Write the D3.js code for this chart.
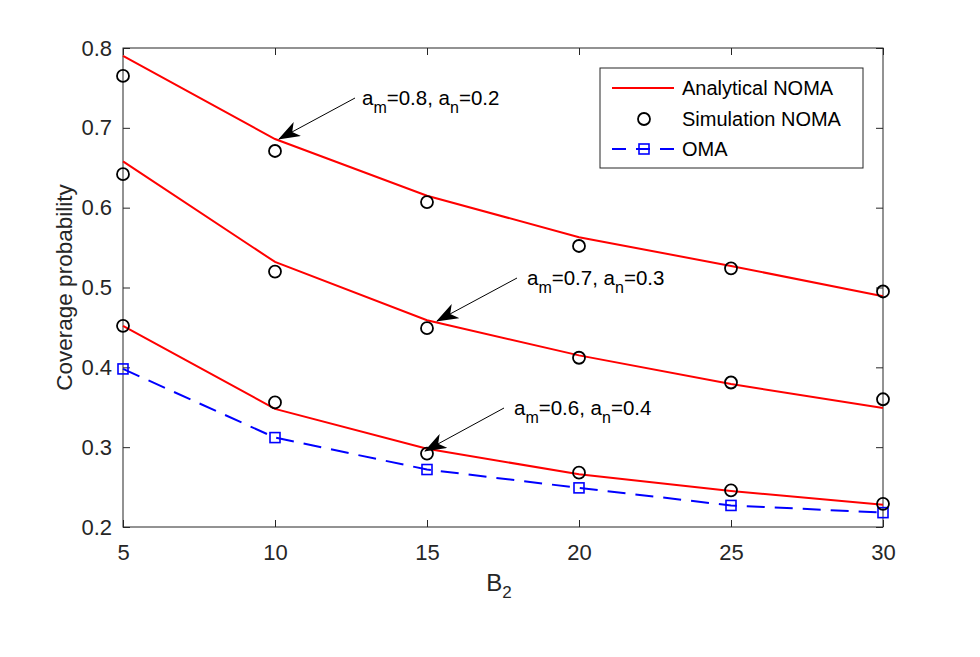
<!DOCTYPE html>
<html>
<head>
<meta charset="utf-8">
<script src="https://cdn.jsdelivr.net/npm/d3@7"></script>
<style>
  body { margin: 0; background: #fff; }
  svg { font-family: "Liberation Sans", Arial, sans-serif; }
</style>
</head>
<body>
<svg width="980" height="657"></svg>
<script>
// data
var xVals = [5, 10, 15, 20, 25, 30];
var anaHigh = [0.790, 0.686, 0.615, 0.563, 0.527, 0.489];
var simHigh = [0.765, 0.671, 0.607, 0.552, 0.524, 0.495];
var anaMid  = [0.658, 0.532, 0.459, 0.415, 0.379, 0.349];
var simMid  = [0.642, 0.520, 0.449, 0.412, 0.381, 0.360];
var anaLow  = [0.452, 0.348, 0.298, 0.266, 0.245, 0.228];
var simLow  = [0.452, 0.356, 0.292, 0.268, 0.246, 0.229];
var oma     = [0.398, 0.312, 0.272, 0.249, 0.227, 0.218];
var xTicks = [5, 10, 15, 20, 25, 30];
var yTicks = [0.2, 0.3, 0.4, 0.5, 0.6, 0.7, 0.8];

var svg = d3.select("svg"),
    margin = {top: 48, right: 97, bottom: 130, left: 123},
    width = +svg.attr("width") - margin.left - margin.right,
    height = +svg.attr("height") - margin.top - margin.bottom;

var x = d3.scaleLinear().domain([5, 30]).range([0, width]);
var y = d3.scaleLinear().domain([0.2, 0.8]).range([height, 0]);

var g = svg.append("g")
    .attr("transform", "translate(" + margin.left + "," + margin.top + ")");

var axisColor = "#262626";

// box
g.append("rect")
  .attr("width", width).attr("height", height)
  .attr("fill", "none").attr("stroke", axisColor).attr("stroke-width", 1);

// x axis (ticks inside)
var xAxis = g.append("g")
  .attr("transform", "translate(0," + height + ")")
  .call(d3.axisBottom(x).tickValues(xTicks).tickSizeInner(-7).tickSizeOuter(0).tickPadding(17));
var xTop = g.append("g")
  .call(d3.axisTop(x).tickValues(xTicks).tickSizeInner(-7).tickSizeOuter(0).tickFormat(""));

// y axis
var yAxis = g.append("g")
  .call(d3.axisLeft(y).tickValues(yTicks).tickSizeInner(-7).tickSizeOuter(0).tickPadding(11).tickFormat(d3.format(".1f")));
var yRight = g.append("g")
  .attr("transform", "translate(" + width + ",0)")
  .call(d3.axisRight(y).tickValues(yTicks).tickSizeInner(-7).tickSizeOuter(0).tickFormat(""));

[xAxis, xTop, yAxis, yRight].forEach(function(a) {
  a.select(".domain").remove();
  a.selectAll("line").attr("stroke", axisColor);
  a.selectAll("text").attr("fill", axisColor).style("font-size", "22px")
    .style("font-family", "Liberation Sans, Arial, sans-serif");
});

// axis labels
svg.append("text")
  .attr("x", margin.left + width / 2 - 4)
  .attr("y", 591)
  .attr("text-anchor", "middle")
  .attr("fill", axisColor)
  .style("font-size", "24px")
  .text("B")
  .append("tspan").attr("dy", 7).style("font-size", "17px").text("2");

svg.append("text")
  .attr("transform", "rotate(-90)")
  .attr("x", -(margin.top + height / 2))
  .attr("y", 72)
  .attr("text-anchor", "middle")
  .attr("fill", axisColor)
  .style("font-size", "22.5px")
  .text("Coverage probability");

var line = d3.line()
  .x(function(d, i) { return x(xVals[i]); })
  .y(function(d) { return y(d); });

// analytical curves
[anaHigh, anaMid, anaLow].forEach(function(s) {
  g.append("path").datum(s)
    .attr("d", line)
    .attr("fill", "none").attr("stroke", "#ff0000").attr("stroke-width", 2);
});

// OMA dashed
g.append("path").datum(oma)
  .attr("d", line)
  .attr("fill", "none").attr("stroke", "#0000ff").attr("stroke-width", 2)
  .attr("stroke-dasharray", "18,10");

g.selectAll(".sq")
  .data(oma)
  .enter().append("rect")
    .attr("class", "sq")
    .attr("x", function(d, i) { return x(xVals[i]) - 5; })
    .attr("y", function(d) { return y(d) - 5; })
    .attr("width", 10).attr("height", 10)
    .attr("fill", "none").attr("stroke", "#0000ff").attr("stroke-width", 1.6);

// simulation circles
[simHigh, simMid, simLow].forEach(function(s) {
  g.selectAll(null)
    .data(s)
    .enter().append("circle")
      .attr("cx", function(d, i) { return x(xVals[i]); })
      .attr("cy", function(d) { return y(d); })
      .attr("r", 6)
      .attr("fill", "none").attr("stroke", "#000").attr("stroke-width", 1.8);
});

// annotations with arrows
var defs = svg.append("defs");
defs.append("marker")
  .attr("id", "ah")
  .attr("viewBox", "0 0 22 16")
  .attr("refX", 21).attr("refY", 8)
  .attr("markerWidth", 22).attr("markerHeight", 16)
  .attr("markerUnits", "userSpaceOnUse")
  .attr("orient", "auto")
  .append("path")
    .attr("d", "M0,0 L22,8 L0,16 L6,8 Z")
    .attr("fill", "#000");

var notes = [
  {m: "0.8", n: "0.2", tx: 362, ty: 105, x1: 355, y1: 98, x2: 279, y2: 139},
  {m: "0.7", n: "0.3", tx: 527, ty: 285, x1: 517, y1: 278, x2: 437, y2: 321},
  {m: "0.6", n: "0.4", tx: 514, ty: 415, x1: 504, y1: 408, x2: 425, y2: 451}
];

notes.forEach(function(a) {
  svg.append("line")
    .attr("x1", a.x1).attr("y1", a.y1).attr("x2", a.x2).attr("y2", a.y2)
    .attr("stroke", "#000").attr("stroke-width", 1)
    .attr("marker-end", "url(#ah)");
  var t = svg.append("text")
    .attr("x", a.tx).attr("y", a.ty)
    .attr("fill", "#000")
    .style("font-size", "20.5px");
  t.append("tspan").text("a");
  t.append("tspan").attr("dy", 8).style("font-size", "16px").text("m");
  t.append("tspan").attr("dy", -8).text("=" + a.m + ", a");
  t.append("tspan").attr("dy", 8).style("font-size", "16px").text("n");
  t.append("tspan").attr("dy", -8).text("=" + a.n);
});

// legend
var leg = svg.append("g");
leg.append("rect")
  .attr("x", 600).attr("y", 68).attr("width", 263).attr("height", 100)
  .attr("fill", "#fff").attr("stroke", axisColor).attr("stroke-width", 1);

var legItems = ["Analytical NOMA", "Simulation NOMA", "OMA"];
var legY = [88, 119, 149];

leg.append("line")
  .attr("x1", 612).attr("x2", 674).attr("y1", legY[0]).attr("y2", legY[0])
  .attr("stroke", "#ff0000").attr("stroke-width", 2);
leg.append("circle")
  .attr("cx", 644).attr("cy", legY[1]).attr("r", 6)
  .attr("fill", "none").attr("stroke", "#000").attr("stroke-width", 1.8);
leg.append("line")
  .attr("x1", 612).attr("x2", 674).attr("y1", legY[2]).attr("y2", legY[2])
  .attr("stroke", "#0000ff").attr("stroke-width", 2)
  .attr("stroke-dasharray", "14,10,14,10,14");
leg.append("rect")
  .attr("x", 639).attr("y", legY[2] - 5).attr("width", 10).attr("height", 10)
  .attr("fill", "none").attr("stroke", "#0000ff").attr("stroke-width", 1.6);

leg.selectAll(".lt")
  .data(legItems)
  .enter().append("text")
    .attr("x", 682)
    .attr("y", function(d, i) { return legY[i] + 7; })
    .attr("fill", "#000")
    .style("font-size", "20px")
    .text(function(d) { return d; });
</script>
</body>
</html>
